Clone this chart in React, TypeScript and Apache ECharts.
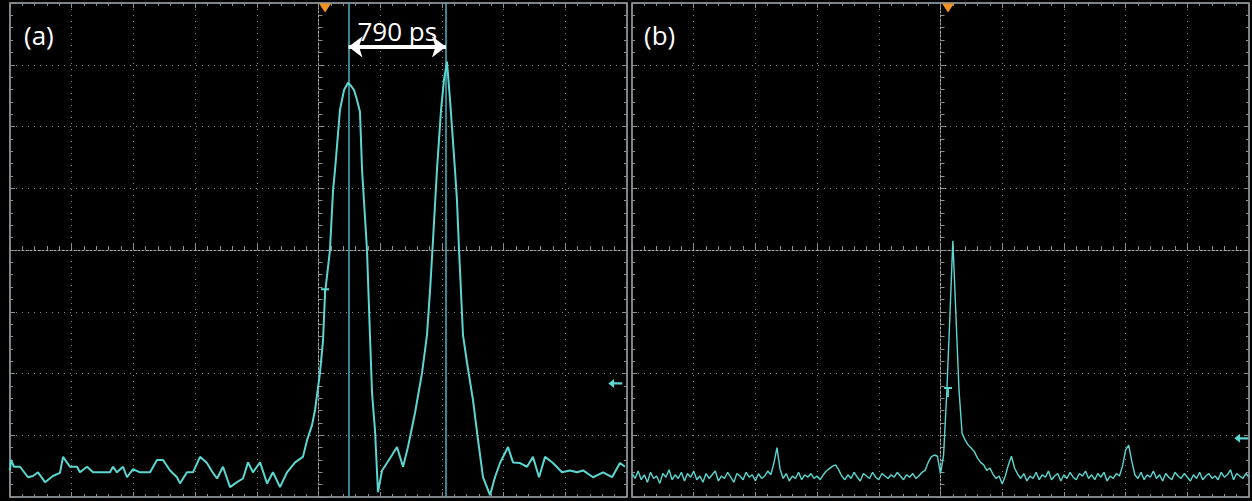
import React, { useEffect, useRef } from "react";
import * as echarts from "echarts";

// ---- axis ranges (ps, divisions) ----
const X_MIN = -2500;
const X_MAX = 2500;
const X_STEP = 500;
const Y_MIN = -4;
const Y_MAX = 4;
const Y_STEP = 1;

// ---- panel (a): time (ps) and level (div) ----
const aTime = [
  -2500, -2492, -2468, -2419, -2354, -2314, -2273, -2216, -2152, -2095,
  -2070, -2014, -1957, -1933, -1876, -1827, -1771, -1690, -1665, -1633,
  -1584, -1552, -1503, -1446, -1365, -1309, -1260, -1203, -1147, -1122,
  -1066, -1017, -960, -904, -855, -822, -774, -717, -660, -612,
  -571, -531, -474, -417, -369, -312, -255, -190, -126, -93,
  -53, -28, 12, 37, 53, 93, 118, 134, 174, 207,
  239, 263, 288, 312, 336, 353, 393, 417, 434, 458,
  482, 515, 555, 596, 636, 685, 725, 782, 839, 879,
  904, 928, 960, 993, 1017, 1041, 1066, 1106, 1122, 1139,
  1171, 1204, 1252, 1293, 1333, 1390, 1430, 1471, 1536, 1576,
  1633, 1690, 1738, 1787, 1836, 1900, 1973, 2038, 2095, 2144,
  2225, 2306, 2379, 2443, 2484,
];
const aLevel = [
  -3.57, -3.4, -3.51, -3.51, -3.68, -3.66, -3.6, -3.76, -3.66, -3.61,
  -3.35, -3.51, -3.51, -3.6, -3.51, -3.6, -3.6, -3.6, -3.51, -3.6,
  -3.51, -3.68, -3.55, -3.6, -3.6, -3.4, -3.4, -3.57, -3.68, -3.78,
  -3.6, -3.6, -3.35, -3.45, -3.61, -3.7, -3.51, -3.84, -3.76, -3.7,
  -3.44, -3.6, -3.44, -3.78, -3.6, -3.84, -3.6, -3.44, -3.35, -3.08,
  -2.84, -2.59, -1.99, -1.46, -0.7, 0, 0.97, 1.3, 2.27, 2.59,
  2.71, 2.66, 2.59, 2.43, 2.24, 1.3, 0, -1.38, -2.32, -2.92,
  -3.92, -3.57, -3.45, -3.32, -3.19, -3.51, -3.19, -2.64, -1.99, -1.38,
  -0.65, 0.16, 1.3, 2.27, 2.76, 3.05, 2.43, 1.3, 0.81, 0,
  -1.38, -1.83, -2.43, -3.08, -3.68, -3.97, -3.68, -3.45, -3.19, -3.44,
  -3.45, -3.51, -3.35, -3.68, -3.35, -3.45, -3.6, -3.57, -3.6, -3.57,
  -3.68, -3.6, -3.68, -3.45, -3.51,
];

// ---- panel (b): level (div), sampled every 25 ps from -2500 ps ----
const bStart = -2500;
const bStep = 25;
const bLevel = [
  -3.62, -3.7, -3.58, -3.72, -3.64, -3.76, -3.6, -3.7, -3.66, -3.78,
  -3.62, -3.68, -3.56, -3.72, -3.64, -3.7, -3.6, -3.74, -3.62, -3.68,
  -3.58, -3.72, -3.66, -3.76, -3.62, -3.7, -3.64, -3.58, -3.74, -3.66,
  -3.7, -3.6, -3.68, -3.76, -3.62, -3.66, -3.72, -3.6, -3.68, -3.64,
  -3.74, -3.62, -3.7, -3.66, -3.58, -3.64, -3.45, -3.2, -3.55, -3.7,
  -3.62, -3.74, -3.66, -3.7, -3.6, -3.72, -3.64, -3.68, -3.62, -3.7,
  -3.66, -3.72, -3.64, -3.58, -3.54, -3.5, -3.48, -3.56, -3.66, -3.72,
  -3.64, -3.7, -3.6, -3.68, -3.74, -3.62, -3.66, -3.7, -3.6, -3.68,
  -3.72, -3.62, -3.66, -3.7, -3.64, -3.68, -3.6, -3.66, -3.72, -3.64,
  -3.68, -3.62, -3.7, -3.66, -3.6, -3.57, -3.44, -3.35, -3.32, -3.34,
  -3.62, -3.32, -2.35, -1.13, 0.15, -1.05, -2.27, -2.97, -3.08, -3.16,
  -3.21, -3.27, -3.37, -3.44, -3.48, -3.57, -3.53, -3.63, -3.7, -3.66,
  -3.79, -3.66, -3.48, -3.34, -3.53, -3.63, -3.7, -3.62, -3.74, -3.66,
  -3.7, -3.6, -3.72, -3.64, -3.68, -3.58, -3.72, -3.66, -3.62, -3.74,
  -3.64, -3.7, -3.6, -3.68, -3.72, -3.62, -3.66, -3.58, -3.7, -3.64,
  -3.72, -3.62, -3.68, -3.6, -3.74, -3.66, -3.7, -3.62, -3.66, -3.5,
  -3.24, -3.16, -3.42, -3.64, -3.7, -3.6, -3.72, -3.64, -3.68, -3.58,
  -3.7, -3.64, -3.74, -3.62, -3.68, -3.72, -3.6, -3.66, -3.7, -3.62,
  -3.68, -3.74, -3.64, -3.7, -3.6, -3.72, -3.66, -3.62, -3.7, -3.66,
  -3.72, -3.6, -3.68, -3.64, -3.56, -3.72, -3.62, -3.66, -3.7, -3.62,
  -3.68,
];

// ---- annotations ----
const cursorTimes = [243, 1033];
const cursorLabel = "790 ps";
const arrowLevel = 3.29;
const panelLabels = ["(a)", "(b)"];
const triggerTimes = [53, 61];
const triggerLevels = [-0.7, -2.3];
const refTimes = [2405, 2437];
const refLevels = [-2.16, -3.05];
const topMarkLevel = 3.92;

// ---- styles ----
const TRACE = "#5cd6d1";
const CURSOR = "#4ab3bf";
const FRAME = "#a3b0b6";
const GRIDC = "#858585";
const TICK = "#8e8e8e";
const ORANGE = "#f39325";
const FONT = "Open Sans";

const T_PATH = "path://M0,0 L8,0 L8,1.8 L4.9,1.8 L4.9,9 L3.1,9 L3.1,1.8 L0,1.8 Z";
const ARROW_PATH = "path://M0,4 L5,0 L5,3 L12,3 L12,5 L5,5 L5,8 Z";

function frameX(gridIndex: number, position: string, split: boolean) {
  return {
    type: "value", gridIndex, position, min: X_MIN, max: X_MAX, interval: X_STEP,
    axisLine: { show: false, onZero: false },
    axisTick: { show: true, inside: true, length: 5, lineStyle: { color: TICK } },
    minorTick: { show: true, splitNumber: 5, length: 3, lineStyle: { color: TICK } },
    axisLabel: { show: false },
    splitLine: { show: split, lineStyle: { color: GRIDC, type: [1, 5], width: 1 } },
  };
}
function frameY(gridIndex: number, position: string, split: boolean) {
  return {
    type: "value", gridIndex, position, min: Y_MIN, max: Y_MAX, interval: Y_STEP,
    axisLine: { show: false, onZero: false },
    axisTick: { show: true, inside: true, length: 5, lineStyle: { color: TICK } },
    minorTick: { show: true, splitNumber: 5, length: 3, lineStyle: { color: TICK } },
    axisLabel: { show: false },
    splitLine: { show: split, lineStyle: { color: GRIDC, type: [1, 5], width: 1 } },
  };
}
function centerX(gridIndex: number) {
  return {
    type: "value", gridIndex, position: "bottom", min: X_MIN, max: X_MAX, interval: X_STEP,
    axisLine: { show: true, onZero: true, lineStyle: { color: "#a8a8a8", type: [2, 2], width: 1 } },
    axisTick: { show: true, inside: true, length: 6, lineStyle: { color: TICK } },
    minorTick: { show: true, splitNumber: 5, length: 4, lineStyle: { color: TICK } },
    axisLabel: { show: false },
    splitLine: { show: false },
  };
}
function centerY(gridIndex: number) {
  return {
    type: "value", gridIndex, position: "left", min: Y_MIN, max: Y_MAX, interval: Y_STEP,
    axisLine: { show: true, onZero: true, lineStyle: { color: "#a8a8a8", type: [2, 2], width: 1 } },
    axisTick: { show: true, inside: true, length: 6, lineStyle: { color: TICK } },
    minorTick: { show: true, splitNumber: 5, length: 4, lineStyle: { color: TICK } },
    axisLabel: { show: false },
    splitLine: { show: false },
  };
}

function markers(i: number) {
  return [
    {
      coord: [triggerTimes[i], topMarkLevel], symbol: "triangle", symbolRotate: 180,
      symbolSize: [12, 9], itemStyle: { color: ORANGE },
    },
    {
      coord: [triggerTimes[i], triggerLevels[i]], symbol: T_PATH,
      symbolSize: [8, 10], itemStyle: { color: TRACE },
    },
    {
      coord: [refTimes[i], refLevels[i]], symbol: ARROW_PATH,
      symbolSize: [14, 9], itemStyle: { color: TRACE },
    },
  ];
}

export default function App() {
  const ref = useRef<HTMLDivElement>(null);
  useEffect(() => {
    if (!ref.current) return;
    const chart = echarts.init(ref.current, null, { renderer: "svg" });
    const aData = aTime.map((t, i) => [t, aLevel[i]]);
    const bData = bLevel.map((v, i) => [bStart + i * bStep, v]);
    const labelStyle = { color: "#ffffff", fontSize: 26, fontWeight: "normal", fontFamily: FONT };
    chart.setOption({
      animation: false,
      backgroundColor: "#000000",
      title: [
        { text: panelLabels[0], left: 24, top: 22, padding: 0, textStyle: labelStyle },
        { text: panelLabels[1], left: 644, top: 22, padding: 0, textStyle: labelStyle },
      ],
      grid: [
        { left: 10, top: 3, width: 617, height: 494, show: true, borderColor: FRAME, borderWidth: 1.5, backgroundColor: "#000" },
        { left: 632, top: 3, width: 617, height: 494, show: true, borderColor: FRAME, borderWidth: 1.5, backgroundColor: "#000" },
      ],
      xAxis: [
        frameX(0, "bottom", true), frameX(0, "top", false), centerX(0),
        frameX(1, "bottom", true), frameX(1, "top", false), centerX(1),
      ],
      yAxis: [
        frameY(0, "left", true), frameY(0, "right", false), centerY(0),
        frameY(1, "left", true), frameY(1, "right", false), centerY(1),
      ],
      series: [
        {
          type: "line", name: "a", xAxisIndex: 2, yAxisIndex: 2, data: aData,
          showSymbol: false, symbol: "none", lineStyle: { color: TRACE, width: 2 }, z: 5,
          markLine: {
            silent: true, symbol: ["none", "none"], label: { show: false },
            data: [
              { xAxis: cursorTimes[0], lineStyle: { color: CURSOR, width: 1.5, type: "solid" } },
              { xAxis: cursorTimes[1], lineStyle: { color: CURSOR, width: 1.5, type: "solid" } },
              [
                {
                  coord: [cursorTimes[0], arrowLevel], symbol: "arrow", symbolSize: [16, 14],
                  lineStyle: { color: "#ffffff", width: 4, type: "solid" },
                  label: {
                    show: true, formatter: cursorLabel, position: "insideMiddleTop", distance: 3,
                    color: "#ffffff", fontSize: 26, fontFamily: FONT,
                  },
                },
                { coord: [cursorTimes[1], arrowLevel], symbol: "arrow", symbolSize: [16, 14] },
              ],
            ],
          },
          markPoint: { silent: true, label: { show: false }, data: markers(0) },
        },
        {
          type: "line", name: "b", xAxisIndex: 5, yAxisIndex: 5, data: bData,
          showSymbol: false, symbol: "none", lineStyle: { color: TRACE, width: 1.4 }, z: 5,
          markPoint: { silent: true, label: { show: false }, data: markers(1) },
        },
      ],
    });
    return () => chart.dispose();
  }, []);
  return (
    <div
      ref={ref}
      style={{ position: "absolute", left: 0, top: 0, width: 1252, height: 501, background: "#000" }}
    />
  );
}
